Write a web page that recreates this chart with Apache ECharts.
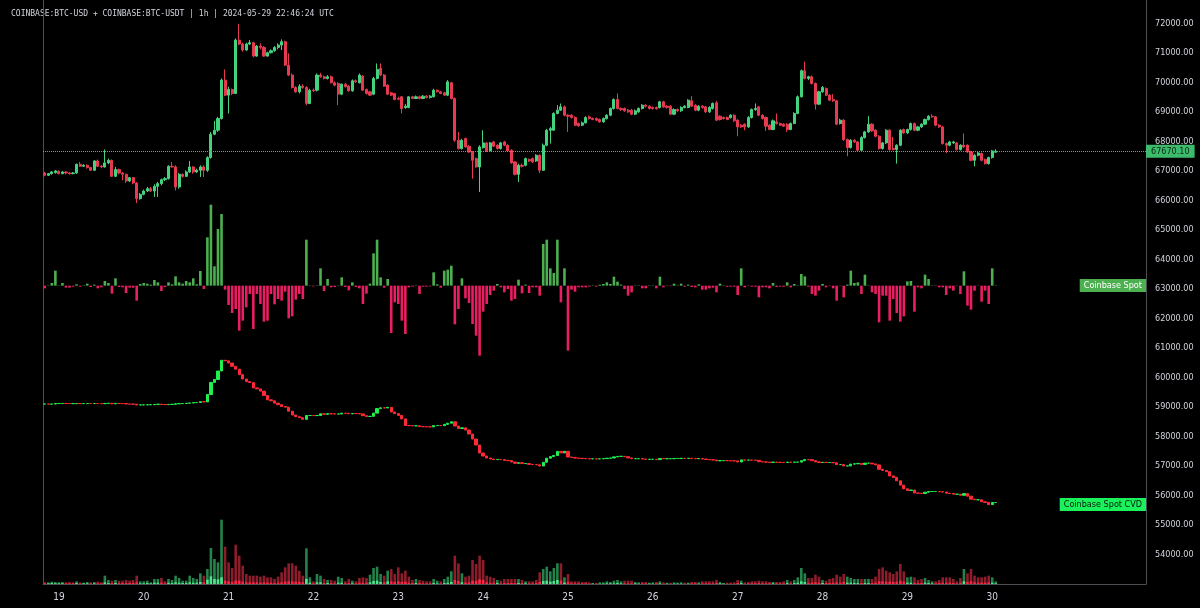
<!DOCTYPE html>
<html><head><meta charset="utf-8">
<style>html,body{margin:0;padding:0;background:#000;}#c{width:1200px;height:608px;}</style>
<script src="https://cdn.jsdelivr.net/npm/echarts@6/dist/echarts.min.js"></script>
</head><body><div id="c"></div>
<script>
// ---- axis / category info ----
const dayLabels = ['19','20','21','22','23','24','25','26','27','28','29','30'];
const startDay = 18, startHour = 20, totalSlots = 312;
const priceMin = 53000, priceMax = 72797, priceInterval = 1000;
const lastPrice = 67670.10;
const titleText = 'COINBASE:BTC-USD + COINBASE:BTC-USDT | 1h | 2024-05-29 22:46:24 UTC';

// ---- hourly BTC candles ----
const open = [66934,66854,66911,66945,66991,66911,66968,66934,66911,66934,
67228,67160,67194,67115,67025,67342,67160,67138,67274,67364,
66820,67047,66934,66888,66662,66775,66594,66062,66209,66322,
66402,66322,66481,66572,66707,66741,67160,67138,66459,66888,
66820,66968,67138,66968,67025,67138,67025,67455,68247,68383,
68779,70081,69572,69764,69628,71439,71304,71100,71304,71349,
70896,71236,71190,70896,71009,71077,71190,71270,71383,70590,
70251,69832,69685,69877,69832,69289,69741,69741,70251,70194,
70138,70194,69990,69968,69606,69945,69877,69719,70058,69990,
70217,69764,69685,69606,70138,70477,70251,69911,69651,69628,
69459,69515,69153,69153,69515,69459,69515,69459,69538,69493,
69515,69741,69685,69651,69572,69990,69459,68043,67760,68100,
67840,67647,67421,67138,67794,67953,67681,67987,67874,67760,
67987,67874,67704,67308,66888,67194,67194,67387,67421,67342,
67534,67025,67874,68383,68383,68949,69062,69175,68892,68892,
68813,68609,68553,68632,68836,68779,68779,68745,68666,68779,
68892,69119,69425,69119,69119,69062,69062,68926,69005,69119,
69232,69198,69153,69153,69153,69345,69198,69198,68926,69085,
69039,69153,69153,69379,69232,69062,69198,69175,69005,69119,
69311,68858,68813,68813,68813,68892,68723,68553,68587,68496,
68813,69085,69175,68892,68813,68553,68406,68666,68609,68587,
68587,68406,68609,68949,69515,70398,70138,70194,69968,69266,
69685,69798,69572,69425,69379,68609,68723,68066,67794,68043,
67987,67704,68134,68326,68587,68383,68179,67760,67953,68383,
67760,67727,67874,68406,68292,68406,68609,68383,68496,68587,
68745,68858,68836,68553,68496,67930,67874,67953,67953,67727,
67874,67874,67647,67364,67534,67591,67387,67251,67455,67640];
const close = [66854,66911,66968,67002,66911,66968,66934,66911,66934,67228,
67160,67194,67115,67025,67342,67160,67138,67274,67364,66820,
67047,66934,66888,66662,66775,66594,66062,66209,66322,66402,
66322,66481,66572,66707,66741,67160,67138,66459,66888,66820,
66968,67138,66968,67025,67138,67025,67455,68247,68383,68779,
70081,69572,69764,69628,71439,71304,71100,71304,71349,70896,
71236,71190,70896,71009,71077,71190,71270,71383,70590,70251,
69832,69685,69877,69832,69289,69741,69719,70251,70194,70138,
70194,69990,69911,69606,69945,69855,69719,70058,70024,70251,
69741,69628,69572,70138,70443,70251,69877,69606,69572,69425,
69436,69119,69198,69515,69459,69515,69459,69538,69493,69538,
69741,69685,69628,69572,70024,69459,68043,67760,68043,67817,
67647,67364,67138,67817,67953,67681,67953,67840,67760,67953,
67874,67681,67274,66888,67194,67160,67421,67342,67308,67534,
67025,67874,68383,68439,68949,69062,69175,68892,68858,68813,
68553,68530,68632,68813,68779,68745,68723,68666,68779,68892,
69119,69425,69119,69085,69039,69005,68926,69039,69119,69232,
69198,69119,69119,69107,69345,69175,69153,68926,69085,69039,
69153,69198,69402,69198,69062,69198,69153,69005,69153,69289,
68723,68745,68779,68745,68892,68700,68496,68496,68496,68813,
69085,69119,68892,68779,68519,68406,68700,68609,68553,68519,
68406,68609,68949,69515,70398,70138,70194,69968,69266,69685,
69832,69572,69402,69379,68587,68723,68066,67794,68043,67987,
67704,68134,68326,68587,68360,68179,67760,67953,68383,67727,
67727,67874,68383,68292,68406,68609,68383,68496,68587,68745,
68858,68836,68553,68496,67930,67874,67987,67987,67727,67874,
67817,67647,67364,67534,67613,67364,67251,67455,67681,67670.1];
const high = [66968,66934,67002,67025,67025,67002,67002,66968,66968,67251,
67308,67228,67228,67138,67364,67387,67206,67727,67421,67387,
67138,67081,66968,66911,66798,66798,66628,66254,66368,66459,
66459,66549,66628,66741,66798,67194,67308,67194,66934,66911,
67025,67342,67160,67081,67194,67194,67500,68326,68700,68836,
70138,70443,69855,69798,71496,71990,71349,71349,71439,71383,
71270,71326,71236,71043,71122,71236,71326,71462,71417,70987,
70307,69877,69945,69945,69877,69787,69798,70307,70330,70239,
70251,70239,70036,70013,69968,69990,69911,70104,70104,70307,
70251,69798,69719,70194,70647,70647,70285,69945,69685,69651,
69515,69538,69266,69538,69549,69560,69560,69572,69572,69572,
69787,69764,69719,69685,70081,70024,69493,68326,68089,68134,
67874,67681,67455,67874,68383,67987,67987,68021,67907,67987,
68021,67907,67738,67342,67251,67251,67455,67421,67455,67568,
67568,67930,68428,68496,68994,69232,69289,69221,68926,68926,
68858,68643,68677,68858,68881,68813,68813,68779,68813,68926,
69153,69459,69628,69153,69153,69107,69107,69085,69153,69266,
69266,69232,69187,69187,69379,69379,69232,69232,69119,69119,
69198,69232,69436,69538,69266,69232,69232,69209,69198,69323,
69379,68892,68847,68847,68926,68926,68756,68587,68621,68858,
69119,69289,69209,68926,68847,68587,68745,68949,68643,68621,
68621,68643,68994,69560,70443,70704,70228,70239,70002,69719,
69877,69832,69606,69606,69413,68768,68756,68100,68077,68077,
68021,68179,68360,68858,68621,68417,68213,67987,68417,68417,
68157,67907,68417,68439,68439,68643,68643,68530,68621,68779,
68892,68926,68870,68587,68530,67964,68021,68021,67987,67907,
68270,67907,67681,67568,67647,67624,67421,67489,67715,67740];
const low = [66820,66832,66877,66911,66888,66888,66888,66877,66888,66911,
67138,67138,67081,67002,67002,67138,67093,67115,67228,66798,
66798,66888,66685,66594,66628,66549,65915,66028,66175,66288,
66288,66119,66119,66515,66662,66707,67115,66345,66402,66775,
66798,66934,66911,66934,66798,66798,66968,67421,68213,68326,
68745,69538,68949,69572,69606,71270,71043,71077,71270,70851,
70873,71122,70873,70873,70987,71043,71122,71100,70556,70217,
69798,69651,69628,69787,69232,69266,69674,69696,70160,70104,
70104,69968,69877,69232,69572,69832,69685,69685,69990,69968,
69719,69594,69538,69572,70104,70217,69855,69572,69538,69402,
69402,68949,69107,69130,69436,69436,69425,69436,69459,69459,
69493,69662,69606,69549,69538,69425,67987,67727,67727,67794,
67613,66741,67115,66288,67760,67647,67647,67817,67727,67727,
67840,67647,67251,66854,66628,67115,67160,67308,67274,67308,
66934,67002,67840,67930,68360,68926,69039,68858,68326,68779,
68519,68496,68519,68609,68745,68723,68700,68632,68632,68745,
68858,69085,69085,69039,69005,68971,68892,68892,68971,69085,
69153,69085,69085,69085,69119,69141,69119,68892,68892,69005,
69005,69119,69130,69175,69028,69028,69119,68971,68971,69085,
68700,68711,68745,68723,68779,68666,68179,68462,68383,68462,
68779,69039,68858,68745,68360,68383,68383,68575,68530,68496,
68326,68383,68587,68926,69493,70104,70081,69934,69085,69232,
69651,69538,69368,69345,68553,68575,68021,67500,67760,67953,
67670,67670,68100,68292,68326,68145,67727,67727,67919,67693,
67693,67251,67840,68258,68258,68372,68349,68349,68462,68553,
68711,68802,68519,68462,67896,67613,67840,67919,67693,67693,
67783,67613,67330,67160,67500,67330,67217,67217,67421,67610];

// ---- Coinbase Spot volume delta ----
const delta = [-8,1,8,45,1,8,-6,-6,-3,4,-3,1,6,-4,3,-8,-5,14,8,-24,
22,-4,-5,-22,-6,-6,-45,5,8,6,3,17,10,-16,-4,10,4,28,10,6,
14,10,22,4,44,-10,
145,243,58,170,215,-12,-58,-82,-70,-135,-105,-65,-25,-130,-25,-55,-108,-105,-25,-56,-40,-45,-18,-98,-92,-42,-25,-40,
138,1,-2,1,52,-16,20,-5,-4,1,25,-4,-14,10,-4,-8,-55,-24,6,97,
138,25,-6,20,-142,-50,-55,-105,-145,-5,-3,1,-25,-3,-3,-2,40,4,-6,45,
48,60,-116,-70,22,-38,-52,-115,-150,-210,-78,-55,-28,-15,5,-5,-20,-10,-45,-40,18,
-23,3,-22,-5,-5,-30,125,138,52,38,138,-50,52,-195,
-12,-18,-5,-5,-5,-3,1,-3,3,5,10,5,27,12,3,-10,-30,-20,1,1,
-8,-8,1,1,-8,27,-5,1,-1,6,1,6,-3,3,-4,-5,4,-12,-12,-8,-6,-20,
6,1,-3,-3,-3,-28,52,-5,-1,-3,-3,-35,-5,-5,-8,8,-4,-3,-3,10,
-5,5,1,35,28,-3,-25,-30,-15,5,-5,-1,-8,-45,-1,-35,3,45,8,10,
-25,33,1,-20,-25,-110,-30,-30,-105,-40,-82,-108,-92,13,14,-78,-5,-8,33,20,
1,-1,-5,-5,-28,-8,-15,-1,-25,43,-60,-72,-15,-1,-48,-15,-55,52,1];

// ---- Coinbase Spot CVD ----
const cvd = [960,959,960,965,965,966,965,964,964,965,964,964,965,964,965,964,963,966,967,962,
966,965,964,960,959,958,950,951,952,953,953,956,958,955,954,956,957,962,964,965,
968,970,974,975,983,981,
1055,1176,1205,1290,1397,1392,1370,1337,1308,1253,1210,1184,1174,1121,1111,1089,1045,1002,992,969,953,935,928,888,850,833,823,807,
845,845,844,845,862,857,863,861,860,860,868,867,862,865,864,861,843,835,837,869,
914,922,920,927,880,864,846,811,745,743,742,742,734,733,732,731,744,745,743,756,
768,782,740,715,722,700,660,610,550,470,440,420,410,404,406,404,397,394,380,367,373,
364,365,356,354,352,340,377,418,434,445,486,471,487,430,
426,419,417,415,413,412,412,411,412,414,418,420,431,436,437,433,421,413,413,413,
410,407,407,407,404,415,413,413,413,415,415,417,416,417,415,413,415,410,405,402,400,392,
394,394,393,392,391,380,401,399,399,398,397,383,381,379,376,379,377,376,375,379,
377,379,379,393,404,403,393,381,375,377,375,375,372,354,354,340,341,359,362,366,
356,369,369,361,351,307,295,283,241,225,192,149,112,95,100,70,68,65,78,85,
85,85,83,80,68,65,58,58,47,64,38,8,2,2,-18,-24,-46,-25,-25];

// ---- volume ----
const volume = [6,5,7,6,5,6,5,6,5,8,5,4,6,5,6,7,5,
25,12,10,12,10,10,12,10,12,25,8,8,10,5,15,15,18,8,15,12,25,18,10,10,25,18,15,32,25,
45,108,75,65,193,112,65,48,118,85,55,30,25,25,25,22,25,20,20,15,22,35,50,62,62,55,40,25,
107,20,8,30,25,15,12,12,10,22,18,8,15,10,8,18,20,18,28,48,52,30,25,40,
45,30,50,32,40,22,12,15,12,10,8,8,15,10,8,15,22,38,85,62,32,22,25,72,60,85,72,25,22,18,12,10,15,15,15,15,15,
12,8,8,8,12,35,45,52,38,48,62,62,20,30,
8,8,8,6,6,5,3,3,5,5,8,6,10,12,8,10,10,10,6,5,6,6,4,5,6,8,5,4,4,5,4,5,4,4,6,6,5,8,8,8,8,12,
6,3,4,4,5,12,10,5,6,8,8,10,8,8,6,6,6,6,8,12,8,12,20,48,32,18,18,28,22,12,10,15,18,28,22,30,22,18,15,15,
15,15,15,15,22,45,50,40,35,30,38,60,38,20,22,20,12,15,18,12,8,8,12,20,20,20,15,8,18,45,32,45,25,20,20,22,25,20,8];
const volumeBright = [2,2,3,2,2,2,2,2,2,3,2,2,2,2,2,2,2,
5,3,3,3,3,3,3,3,3,5,2,2,3,2,4,4,4,2,4,3,5,4,3,3,5,4,4,6,5,
13,23,15,14,20,10,8,6,10,10,7,5,5,5,5,4,5,4,4,3,4,5,7,8,8,7,6,5,
15,4,2,5,5,3,3,3,2,4,4,2,3,2,2,4,4,4,5,9,10,6,5,8,
8,6,8,6,7,4,3,3,3,2,2,2,3,2,2,3,4,6,12,9,5,4,5,10,9,14,12,5,4,4,3,2,3,3,3,3,3,
3,2,2,2,3,6,9,10,7,9,12,10,4,6,
2,2,2,2,2,1,1,1,1,1,2,2,2,3,2,2,2,2,2,1,2,2,1,1,2,2,1,1,1,1,1,1,1,1,2,2,1,2,2,2,2,3,
2,1,1,1,1,3,3,1,2,2,2,3,2,2,2,2,2,2,2,3,2,3,4,8,6,4,4,5,4,3,3,3,4,5,4,6,4,4,3,3,
3,3,3,3,4,8,8,7,7,6,7,10,7,4,4,4,3,3,4,3,2,2,3,4,4,4,3,2,4,8,6,8,5,4,4,4,5,4,2];

// ---- build ----
const categories = [];
{ let d = startDay, h = startHour;
  for (let k = 0; k < totalSlots; k++) {
    categories.push(d + ' ' + String(h).padStart(2, '0') + ':00');
    h++; if (h === 24) { h = 0; d++; }
  } }
const isDayStart = (v) => v.endsWith(' 00:00') && dayLabels.includes(v.split(' ')[0]);

const candleData = open.map((o, i) => [o, close[i], low[i], high[i]]);
const cvdData = cvd.map((v, i) => {
  const o = i ? cvd[i - 1] : v;
  return [o, v, Math.min(o, v), Math.max(o, v)];
});
const UP = '#45d27f', DOWN = '#e63a50';
const deltaData = delta.map(v => ({ value: v, itemStyle: { color: v >= 0 ? '#4caf50' : '#e91e63' } }));
const volData = volume.map((v, i) => ({ value: v, itemStyle: { color: delta[i] >= 0 ? '#24834a' : '#8e1d2c' } }));
const volBrightData = volumeBright.map((v, i) => ({ value: v, itemStyle: { color: delta[i] >= 0 ? '#4fe58e' : '#ff2448' } }));

const AX = '#4d4f55';
const NARROW = "'Liberation Sans Narrow','DejaVu Sans Condensed',Roboto,sans-serif";
const chart = echarts.init(document.getElementById('c'));
chart.setOption({
  backgroundColor: '#000000',
  animation: false,
  grid: { left: 43, right: 54, top: 0, bottom: 24 },
  xAxis: {
    type: 'category', data: categories, boundaryGap: true,
    axisLine: { show: true, onZero: false, lineStyle: { color: AX } },
    axisTick: { show: false }, splitLine: { show: false },
    axisLabel: { interval: (idx, v) => isDayStart(v), formatter: v => v.split(' ')[0],
      color: '#d1d4dc', fontSize: 10, fontFamily: NARROW, margin: 8 }
  },
  yAxis: [
    { type: 'value', position: 'right', min: priceMin, max: priceMax, interval: priceInterval, scale: false,
      axisLine: { show: true, onZero: false, lineStyle: { color: AX } }, axisTick: { show: false }, splitLine: { show: false },
      axisLabel: { color: '#d1d4dc', fontSize: 9, fontFamily: NARROW, margin: 9, showMinLabel: false, showMaxLabel: false,
        formatter: v => v.toFixed(2) } },
    { type: 'value', show: false, min: -895, max: 857 },
    { type: 'value', show: false, min: -840, max: 5000 },
    { type: 'value', position: 'left', min: 0, max: 1752,
      axisLine: { show: true, onZero: false, lineStyle: { color: AX } }, axisTick: { show: false },
      axisLabel: { show: false }, splitLine: { show: false } }
  ],
  series: [
    { name: 'price', type: 'candlestick', yAxisIndex: 0, data: candleData, barWidth: 2.6,
      itemStyle: { color: UP, color0: DOWN, borderColor: UP, borderColor0: DOWN, borderWidth: 1 },
      markLine: { silent: true, symbol: 'none', animation: false,
        lineStyle: { type: 'dotted', color: '#3fbf6f', width: 1 },
        label: { show: true, position: 'end', distance: 0, formatter: lastPrice.toFixed(2),
          backgroundColor: '#3dbb6c', color: '#0c2614', fontSize: 9, fontFamily: NARROW, padding: [2, 5, 2, 5] },
        data: [{ yAxis: lastPrice }] } },
    { name: 'Coinbase Spot', type: 'bar', yAxisIndex: 1, data: deltaData, barWidth: 2.6, barGap: '-100%' },
    { name: 'Coinbase Spot CVD', type: 'candlestick', yAxisIndex: 2, data: cvdData, barWidth: 2.8,
      itemStyle: { color: '#1ff04f', color0: '#ff2a36', borderColor: '#1ff04f', borderColor0: '#ff2a36', borderWidth: 1 } },
    { name: 'volume', type: 'bar', yAxisIndex: 3, data: volData, barWidth: 2.6, barGap: '-100%' },
    { name: 'volumeBright', type: 'bar', yAxisIndex: 3, data: volBrightData, barWidth: 2.6, barGap: '-100%' }
  ],
  graphic: [
    { type: 'text', left: 11, top: 10, style: { text: titleText, fill: '#d1d4dc', font: '8px "DejaVu Sans Mono", "Liberation Mono", monospace' } },
    { type: 'text', right: 54, top: 279, style: { text: 'Coinbase Spot', fill: '#ffffff', backgroundColor: '#4caf50',
      padding: [2, 4, 2, 4], font: '9px ' + NARROW } },
    { type: 'text', right: 54, top: 498, style: { text: 'Coinbase Spot CVD', fill: '#0a1a0e', backgroundColor: '#19f25a',
      padding: [2, 4, 2, 4], font: '9px ' + NARROW } }
  ]
});
</script></body></html>
